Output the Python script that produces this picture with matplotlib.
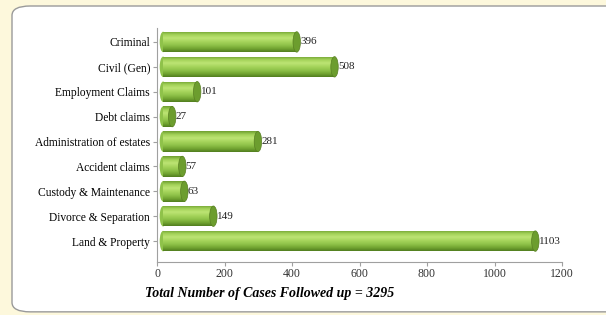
import numpy as np
import matplotlib
matplotlib.use("Agg")
import matplotlib.pyplot as plt
from matplotlib.colors import LinearSegmentedColormap
from matplotlib.patches import Rectangle, Ellipse, FancyBboxPatch

categories = ["Criminal", "Civil (Gen)", "Employment Claims", "Debt claims",
              "Administration of estates", "Accident claims",
              "Custody & Maintenance", "Divorce & Separation", "Land & Property"]
cases = [396, 508, 101, 27, 281, 57, 63, 149, 1103]
xticks = [0, 200, 400, 600, 800, 1000, 1200]
total_label = "Total Number of Cases Followed up = 3295"

plt.rcParams['font.family'] = ['Liberation Serif', 'DejaVu Serif']

fig = plt.figure(figsize=(6.06, 3.15), dpi=100, facecolor="#fdf8dc")

# white rounded panel
panel = FancyBboxPatch((12 / 606, 0.01), 1.2, 1 - 6 / 315 - 0.01,
                       boxstyle="round,pad=0,rounding_size=0.03",
                       transform=fig.transFigure, facecolor="white",
                       edgecolor="#9a9a9a", linewidth=1.0, zorder=-5)
fig.patches.append(panel)

ax = fig.add_axes([157 / 606, 1 - 262 / 315, (562 - 157) / 606, (262 - 28) / 315])
ax.set_facecolor("none")
ax.set_zorder(2)

cmap = LinearSegmentedColormap.from_list(
    "cyl", ["#6f9f30", "#a3d259", "#bde474", "#a6d55c", "#90c34a", "#74a733", "#527e1f"])
grad = np.linspace(0, 1, 64).reshape(-1, 1)

h = 0.82
depth = 18  # 3D offset of the cylinders, in data units
ypos = np.arange(len(categories))
for y, v in zip(ypos, cases):
    x0, x1 = depth, v + depth
    rect = Rectangle((x0, y - h / 2), v, h, facecolor="none", edgecolor="none")
    ax.add_patch(rect)
    ax.add_patch(Ellipse((x0, y), 20, h, facecolor="#8fc24a", edgecolor="none", zorder=1.5))
    im = ax.imshow(grad, cmap=cmap, aspect="auto",
                   extent=[x0, x1, y + h / 2, y - h / 2], zorder=2)
    im.set_clip_path(rect)
    ax.add_patch(Ellipse((x1, y), 22, h, facecolor="#6c9d2e",
                         edgecolor="#587f22", linewidth=0.5, zorder=3))
    ax.text(x1 + 10, y, str(v), va="center", ha="left", fontsize=8,
            color="#222222", zorder=4)

ax.set_xlim(0, 1200)
ax.set_ylim(8.84, -0.56)
ax.set_yticks(ypos)
ax.set_yticklabels(categories, fontsize=8.3)
ax.set_xticks(xticks)
ax.set_xticklabels([str(t) for t in xticks], fontsize=8.5, color="#333333")

for s in ["top", "right"]:
    ax.spines[s].set_visible(False)
for s in ["left", "bottom"]:
    ax.spines[s].set_color("#a0a0a0")
    ax.spines[s].set_linewidth(0.8)
ax.tick_params(axis="both", color="#a0a0a0", length=3, width=0.8)
ax.tick_params(axis="y", pad=2)
ax.tick_params(axis="x", pad=1.5)

fig.text(145 / 606, 1 - 294 / 315, total_label, fontsize=10,
         fontweight="bold", style="italic", ha="left", va="center")

fig.savefig("out.png", dpi=100, facecolor=fig.get_facecolor())
